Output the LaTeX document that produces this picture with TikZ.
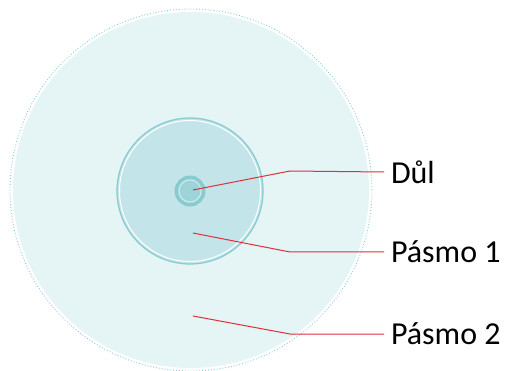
\documentclass[tikz,border=0pt]{standalone}
\usepackage{fontspec}
\setmainfont{Carlito}
\begin{document}
\begin{tikzpicture}[x=1pt,y=-1pt,
  lbl/.style={anchor=west,inner sep=0pt,outer sep=0pt,font=\fontsize{32}{32}\selectfont,text=black},
  leader/.style={draw=redl,line width=1pt}]
\definecolor{outerfill}{HTML}{E5F4F5}
\definecolor{midfill}{HTML}{C3E4E8}
\definecolor{ring}{HTML}{86CBD0}
\definecolor{corefill}{HTML}{9DD4DA}
\definecolor{redl}{HTML}{E0303A}
\useasboundingbox (0,0) rectangle (506,371);
% outer zone (Pásmo 2)
\node[circle,minimum size=362pt,inner sep=0pt,draw=ring,dotted,line width=0.9pt] (outer) at (191,190) {};
\fill[outerfill] (191,190) circle[radius=178];
% middle zone (Pásmo 1)
\node[circle,minimum size=146pt,inner sep=0pt,draw=ring,line width=1.2pt,fill=midfill] (mid) at (190,191) {};
\draw[white,line width=1pt] (190,191) circle[radius=70.5];
% core (Důl)
\node[circle,minimum size=28pt,inner sep=0pt,draw=ring,line width=3pt,fill=corefill] (core) at (190,191) {};
\draw[white!60!corefill,line width=0.8pt] (190,191) circle[radius=11];
% labels
\node[lbl] (dul) at (391,172) {Důl};
\node[lbl] (p1) at (391,252) {Pásmo 1};
\node[lbl] (p2) at (391,334) {Pásmo 2};
% leader start points and bends
\coordinate (s0) at (193,190);
\coordinate (s1) at (193,233);
\coordinate (s2) at (193,316);
\coordinate (b0) at (290,171);
\coordinate (b1) at (290,252);
\coordinate (b2) at (290,334);
\path[leader] (s0) -- (b0) -- ([xshift=-7pt]dul.west);
\path[leader] (s1) -- (b1) -- ([xshift=-7pt]p1.west);
\path[leader] (s2) -- (b2) -- ([xshift=-7pt]p2.west);
\end{tikzpicture}
\end{document}
